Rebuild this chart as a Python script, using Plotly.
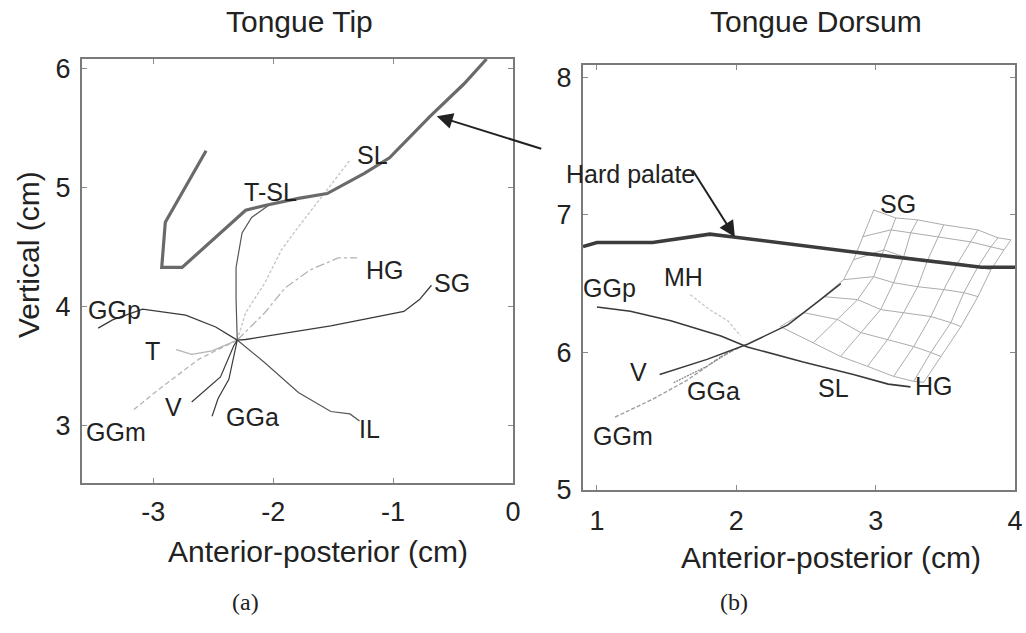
import plotly.graph_objects as go

# ---------------- Panel (a): Tongue Tip ----------------
PALATE_A_X = [-2.56, -2.90, -2.93, -2.76, -2.23, -2.07, -1.79, -1.55, -1.24, -1.03, -0.69, -0.41, -0.22]
PALATE_A_Y = [5.31, 4.71, 4.33, 4.33, 4.81, 4.85, 4.91, 4.95, 5.12, 5.25, 5.60, 5.87, 6.08]

GGP_A_X = [-3.46, -3.34, -3.09, -2.73, -2.48, -2.30]
GGP_A_Y = [3.82, 3.89, 3.98, 3.93, 3.83, 3.72]
SG_A_X = [-2.30, -2.23, -1.52, -0.91, -0.78, -0.68]
SG_A_Y = [3.72, 3.725, 3.84, 3.96, 4.06, 4.18]
IL_A_X = [-2.30, -2.07, -1.79, -1.52, -1.36, -1.28]
IL_A_Y = [3.72, 3.53, 3.28, 3.12, 3.10, 3.04]
GGA_A_X = [-2.30, -2.37, -2.46, -2.51]
GGA_A_Y = [3.72, 3.39, 3.23, 3.08]
V_A_X = [-2.30, -2.33, -2.44, -2.68]
V_A_Y = [3.72, 3.67, 3.41, 3.20]
GGM_A_X = [-2.30, -2.62, -2.95, -3.17]
GGM_A_Y = [3.72, 3.56, 3.31, 3.13]
T_A_X = [-2.30, -2.51, -2.68, -2.81]
T_A_Y = [3.72, 3.63, 3.60, 3.64]
TSL_A_X = [-2.30, -2.31, -2.31, -2.26, -2.18, -2.04]
TSL_A_Y = [3.72, 4.06, 4.33, 4.62, 4.75, 4.85]
SL_A_X = [-2.30, -2.23, -2.07, -1.93, -1.79, -1.65, -1.49, -1.36]
SL_A_Y = [3.72, 3.95, 4.20, 4.48, 4.67, 4.85, 5.06, 5.23]
HG_A_X = [-2.30, -2.07, -1.90, -1.69, -1.55, -1.46, -1.30]
HG_A_Y = [3.72, 3.95, 4.16, 4.31, 4.37, 4.41, 4.41]

LABELS_A = ["SL", "T-SL", "HG", "SG", "GGp", "T", "V", "GGa", "IL", "GGm"]
LABELS_A_X = [-1.17, -2.02, -1.07, -0.51, -3.32, -3.01, -2.83, -2.17, -1.20, -3.31]
LABELS_A_Y = [5.27, 4.96, 4.31, 4.20, 3.975, 3.625, 3.16, 3.075, 2.975, 2.95]

XTICKS_A = [-3, -2, -1, 0]
XTICKTEXT_A = ["-3", "-2", "-1", "0"]
YTICKS_A = [3, 4, 5, 6]

# ---------------- Panel (b): Tongue Dorsum ----------------
PALATE_B_X = [0.90, 1.00, 1.40, 1.81, 1.98, 2.84, 3.76, 4.00]
PALATE_B_Y = [6.77, 6.80, 6.80, 6.86, 6.84, 6.73, 6.62, 6.62]

GGP_B_X = [1.00, 1.24, 1.53, 1.89, 2.08, 2.48, 2.84, 3.09, 3.25]
GGP_B_Y = [6.33, 6.30, 6.23, 6.12, 6.04, 5.93, 5.84, 5.77, 5.75]
V_B_X = [1.45, 1.79, 2.08, 2.37, 2.60, 2.75]
V_B_Y = [5.84, 5.95, 6.06, 6.20, 6.38, 6.50]
GGM_B_X = [1.13, 1.40, 1.65, 1.89, 2.03]
GGM_B_Y = [5.53, 5.66, 5.80, 5.97, 6.04]
GGA_B_X = [1.55, 1.79, 1.98]
GGA_B_Y = [5.78, 5.90, 6.02]
MH_B_X = [1.67, 1.81, 1.94, 2.03]
MH_B_Y = [6.42, 6.31, 6.23, 6.12]

# deformed mesh (SG region): each inner list is one "column" of nodes, bottom to top
MESH_X = [
    [2.317, 2.482, 2.626, 2.770, 2.842, 2.906, 2.986],
    [2.554, 2.727, 2.871, 2.986, 3.058, 3.108, 3.144],
    [2.748, 2.892, 3.036, 3.129, 3.201, 3.252, 3.302],
    [2.942, 3.086, 3.201, 3.302, 3.374, 3.446, 3.489],
    [3.129, 3.273, 3.396, 3.489, 3.590, 3.683, 3.734],
    [3.273, 3.396, 3.540, 3.633, 3.734, 3.827, 3.878],
    [3.345, 3.468, 3.612, 3.734, 3.827, 3.921, 3.971],
]
MESH_Y = [
    [6.188, 6.290, 6.406, 6.529, 6.674, 6.841, 7.036],
    [6.072, 6.239, 6.384, 6.551, 6.746, 6.891, 6.978],
    [5.971, 6.145, 6.312, 6.507, 6.696, 6.870, 6.964],
    [5.899, 6.094, 6.290, 6.478, 6.674, 6.841, 6.928],
    [5.826, 6.043, 6.261, 6.457, 6.652, 6.804, 6.891],
    [5.790, 6.000, 6.217, 6.435, 6.623, 6.768, 6.833],
    [5.783, 5.971, 6.188, 6.406, 6.601, 6.746, 6.819],
]

LABELS_B = ["SG", "MH", "GGp", "V", "GGa", "SL", "HG", "GGm"]
LABELS_B_X = [3.16, 1.62, 1.09, 1.30, 1.84, 2.70, 3.42, 1.19]
LABELS_B_Y = [7.08, 6.55, 6.47, 5.86, 5.72, 5.74, 5.755, 5.39]

XTICKS_B = [1, 2, 3, 4]
YTICKS_B = [5, 6, 7, 8]

FONT = "Liberation Sans, Arial, sans-serif"
DARK = "#3a3a3a"
LIGHT = "#b4b4b4"

fig = go.Figure()


def add(xs, ys, panel, color, width, dash="solid"):
    fig.add_trace(go.Scatter(
        x=xs, y=ys, mode="lines",
        line=dict(color=color, width=width, dash=dash),
        xaxis="x" if panel == 1 else "x2",
        yaxis="y" if panel == 1 else "y2",
        hoverinfo="skip", showlegend=False, cliponaxis=True))


# panel (a)
add(GGM_A_X, GGM_A_Y, 1, LIGHT, 1.3, "5px,3px")
add(T_A_X, T_A_Y, 1, LIGHT, 1.3)
add(SL_A_X, SL_A_Y, 1, "#c4c4c4", 1.3, "3px,2px")
add(HG_A_X, HG_A_Y, 1, LIGHT, 1.3, "dashdot")
add(GGP_A_X, GGP_A_Y, 1, DARK, 1.3)
add(SG_A_X, SG_A_Y, 1, DARK, 1.3)
add(IL_A_X, IL_A_Y, 1, "#555555", 1.2)
add(GGA_A_X, GGA_A_Y, 1, DARK, 1.2)
add(V_A_X, V_A_Y, 1, DARK, 1.2)
add(TSL_A_X, TSL_A_Y, 1, "#555555", 1.2)
add(PALATE_A_X, PALATE_A_Y, 1, "#6a6a6a", 3.2)

# panel (b)
for cx, cy in zip(MESH_X, MESH_Y):
    add(cx, cy, 2, "#acacac", 1.0)
for i in range(len(MESH_X[0])):
    add([col[i] for col in MESH_X], [col[i] for col in MESH_Y], 2, "#acacac", 1.0)
add(MH_B_X, MH_B_Y, 2, "#c8c8c8", 1.3, "3px,2px")
add(GGM_B_X, GGM_B_Y, 2, "#9a9a9a", 1.3, "4px,2px")
add(GGA_B_X, GGA_B_Y, 2, "#8a8a8a", 1.3, "2px,1px")
add(V_B_X, V_B_Y, 2, DARK, 1.5)
add(GGP_B_X, GGP_B_Y, 2, DARK, 1.6)
add(PALATE_B_X, PALATE_B_Y, 2, "#3c3c3c", 3.6)

annotations = []
for t, x, y in zip(LABELS_A, LABELS_A_X, LABELS_A_Y):
    annotations.append(dict(text=t, x=x, y=y, xref="x", yref="y", showarrow=False,
                            font=dict(family=FONT, size=25, color="#222")))
for t, x, y in zip(LABELS_B, LABELS_B_X, LABELS_B_Y):
    annotations.append(dict(text=t, x=x, y=y, xref="x2", yref="y2", showarrow=False,
                            font=dict(family=FONT, size=25, color="#222")))

# titles and axis labels
big = dict(family=FONT, size=30, color="#222")
annotations += [
    dict(text="Tongue Tip", x=299 / 1026, y=1 - 22 / 633, xref="paper", yref="paper",
         showarrow=False, font=big, xanchor="center", yanchor="middle"),
    dict(text="Tongue Dorsum", x=816 / 1026, y=1 - 22 / 633, xref="paper", yref="paper",
         showarrow=False, font=big, xanchor="center", yanchor="middle"),
    dict(text="Anterior-posterior (cm)", x=318 / 1026, y=1 - 551 / 633, xref="paper", yref="paper",
         showarrow=False, font=big, xanchor="center", yanchor="middle"),
    dict(text="Anterior-posterior (cm)", x=831 / 1026, y=1 - 557 / 633, xref="paper", yref="paper",
         showarrow=False, font=big, xanchor="center", yanchor="middle"),
    dict(text="Vertical (cm)", x=28 / 1026, y=1 - 255 / 633, xref="paper", yref="paper",
         showarrow=False, font=big, textangle=-90, xanchor="center", yanchor="middle"),
    dict(text="(a)", x=230 / 1026, y=1 - 617 / 633, xref="paper", yref="paper", showarrow=False,
         font=dict(family="Liberation Serif, Times New Roman, serif", size=24, color="#222")),
    dict(text="(b)", x=750 / 1026, y=1 - 617 / 633, xref="paper", yref="paper", showarrow=False,
         font=dict(family="Liberation Serif, Times New Roman, serif", size=24, color="#222")),
    dict(text="Hard palate", x=630 / 1026, y=1 - 158 / 633, xref="paper", yref="paper",
         showarrow=False, font=dict(family=FONT, size=25, color="#222")),
    # arrows to the hard palate
    dict(text="", x=-0.636, y=5.60, xref="x", yref="y", showarrow=True, ax=106, ay=33,
         arrowhead=2, arrowsize=1.6, arrowwidth=2, arrowcolor="#222"),
    dict(text="", x=1.99, y=6.84, xref="x2", yref="y2", showarrow=True, ax=-43, ay=-68,
         arrowhead=2, arrowsize=1.6, arrowwidth=2, arrowcolor="#222"),
]

axis_common = dict(showgrid=False, zeroline=False, showline=True, linecolor="#7a7a7a",
                   linewidth=2, mirror="ticks", ticks="inside", ticklen=5, tickwidth=1,
                   tickcolor="#8a8a8a", automargin=False,
                   tickfont=dict(family=FONT, size=27, color="#222"))

fig.update_layout(
    width=1026, height=633,
    margin=dict(l=0, r=0, t=0, b=0),
    paper_bgcolor="white", plot_bgcolor="white",
    showlegend=False,
    xaxis=dict(domain=[82 / 1026, 513 / 1026], range=[-3.595, 0.0], tickvals=XTICKS_A,
               ticktext=XTICKTEXT_A, anchor="y", ticklabelstandoff=4, **axis_common),
    yaxis=dict(domain=[1 - 483 / 633, 1 - 59 / 633], range=[2.52, 6.08], tickvals=YTICKS_A,
               anchor="x", ticklabelstandoff=4, **axis_common),
    xaxis2=dict(domain=[583 / 1026, 1015 / 1026], range=[0.9, 4.0], tickvals=XTICKS_B,
                anchor="y2", ticklabelstandoff=6, **axis_common),
    yaxis2=dict(domain=[1 - 490 / 633, 1 - 65 / 633], range=[5.0, 8.09], tickvals=YTICKS_B,
                anchor="x2", ticklabelstandoff=4, **axis_common),
    annotations=annotations,
)

fig.write_html("out.html", config={"displayModeBar": False},
               post_script="document.body.style.margin='0';")
